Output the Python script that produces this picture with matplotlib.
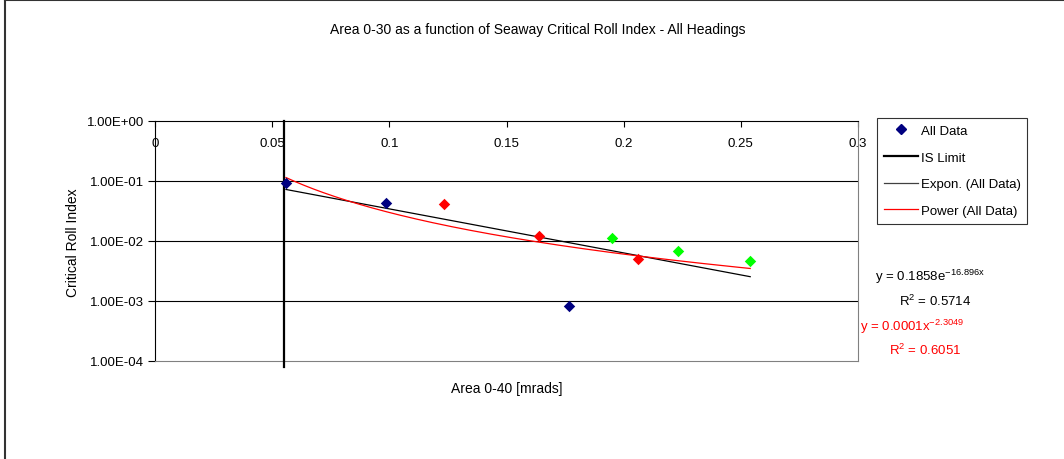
import numpy as np
import matplotlib.pyplot as plt
from matplotlib.lines import Line2D

plt.rcParams['font.family'] = ['Liberation Sans', 'DejaVu Sans']
plt.rcParams['mathtext.default'] = 'regular'

# data
navy_x = [0.0559, 0.0986, 0.1767]
navy_y = [0.093, 0.043, 0.00083]
red_x = [0.1233, 0.1639, 0.2060]
red_y = [0.041, 0.0121, 0.0050]
green_x = [0.1950, 0.2230, 0.2540]
green_y = [0.0112, 0.0068, 0.00464]

is_limit = 0.055

# trendline coefficients (from the chart labels)
exp_a, exp_b = 0.1858, -16.896
pow_a, pow_b = 0.000148, -2.3049

xticks = [0, 0.05, 0.1, 0.15, 0.2, 0.25, 0.3]
xticklabels = ['0', '0.05', '0.1', '0.15', '0.2', '0.25', '0.3']
yticks = [1e-4, 1e-3, 1e-2, 1e-1, 1e0]
yticklabels = ['1.00E-04', '1.00E-03', '1.00E-02', '1.00E-01', '1.00E+00']

fig = plt.figure(figsize=(10.64, 4.6), dpi=100)
ax = fig.add_axes([155/1064, 1 - 362/460, (858-155)/1064, (362-122)/460])

all_x = navy_x + red_x + green_x
xs = np.linspace(min(all_x), max(all_x), 200)
ax.plot(xs, exp_a * np.exp(exp_b * xs), color='black', lw=0.9, zorder=2)
ax.plot(xs, pow_a * xs ** pow_b, color='red', lw=0.9, zorder=2)

ax.plot([is_limit, is_limit], [1e0, 8e-5], color='black', lw=1.6, zorder=3, clip_on=False)

mk = dict(marker='D', s=34, linewidths=0, zorder=4)
ax.scatter(navy_x, navy_y, color='#000080', **mk)
ax.scatter(red_x, red_y, color='#ff0000', **mk)
ax.scatter(green_x, green_y, color='#00ff00', **mk)

ax.set_yscale('log')
ax.set_ylim(1e-4, 1e0)
ax.set_xlim(0, 0.3)
ax.set_yticks(yticks)
ax.set_yticklabels(yticklabels, fontsize=9.5)
ax.minorticks_off()
ax.tick_params(axis='y', direction='out', length=5, width=0.8, pad=3)

ax.set_xticks(xticks)
ax.set_xticklabels(xticklabels, fontsize=9.5)
ax.tick_params(axis='x', bottom=False, top=True, labelbottom=False, labeltop=True,
               direction='in', length=4, width=0.8, pad=-20)

for y in yticks[1:-1]:
    ax.axhline(y, color='black', lw=0.8, zorder=1)

ax.spines['top'].set_color('black')
ax.spines['left'].set_color('black')
ax.spines['right'].set_color('#808080')
ax.spines['bottom'].set_color('#808080')

fig.text(538/1064, 1 - 30/460, 'Area 0-30 as a function of Seaway Critical Roll Index - All Headings',
         ha='center', va='center', fontsize=10)
fig.text(507/1064, 1 - 389/460, 'Area 0-40 [mrads]', ha='center', va='center', fontsize=10)
fig.text(73/1064, 1 - 243/460, 'Critical Roll Index', ha='center', va='center', rotation=90, fontsize=10)

handles = [
    Line2D([], [], marker='D', color='#000080', linestyle='none', markersize=5),
    Line2D([], [], color='black', lw=1.6),
    Line2D([], [], color='#404040', lw=0.9),
    Line2D([], [], color='red', lw=0.9),
]
labels = ['All Data', 'IS Limit', 'Expon. (All Data)', 'Power (All Data)']
leg = fig.legend(handles, labels, loc='upper left', bbox_to_anchor=(877/1064, 1 - 119/460),
                 fontsize=9.5, frameon=True, fancybox=False, borderpad=0.5, labelspacing=1.1,
                 handlelength=2.6, handletextpad=0.2, borderaxespad=0)
leg.get_frame().set_edgecolor('black')
leg.get_frame().set_linewidth(0.8)

fig.text(930/1064, 1 - 277/460, r'y = 0.1858e$^{-16.896x}$', ha='center', va='center', fontsize=9.5)
fig.text(935/1064, 1 - 301/460, r'R$^{2}$ = 0.5714', ha='center', va='center', fontsize=9.5)
fig.text(912/1064, 1 - 327/460, r'y = 0.0001x$^{-2.3049}$', ha='center', va='center', fontsize=9.5, color='red')
fig.text(925/1064, 1 - 350/460, r'R$^{2}$ = 0.6051', ha='center', va='center', fontsize=9.5, color='red')

# chart border
fig.add_artist(Line2D([5/1064, 5/1064], [0, 1 - 1/460], color='#333333', lw=1.5))
fig.add_artist(Line2D([5/1064, 1], [1 - 1/460, 1 - 1/460], color='#333333', lw=1.5))

fig.savefig('out.png', dpi=100)
